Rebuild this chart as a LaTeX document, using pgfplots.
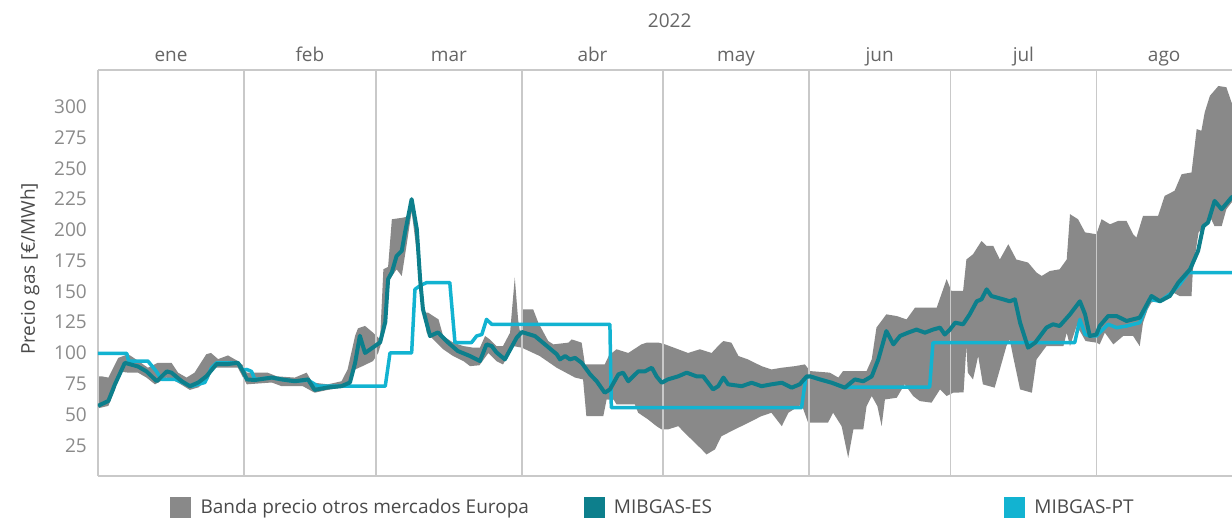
\documentclass[border=0pt]{standalone}
\usepackage{fontspec}
\setmainfont{Open Sans}
\usepackage{pgfplots}
\pgfplotsset{compat=1.18}
\usepgfplotslibrary{fillbetween}
\definecolor{bandgray}{HTML}{898989}
\definecolor{esteal}{HTML}{0D7F8C}
\definecolor{ptcyan}{HTML}{12B3D1}
\definecolor{framegray}{HTML}{C9C9C9}
\definecolor{ticktext}{HTML}{8A8A8A}
\definecolor{labeltext}{HTML}{666666}
\definecolor{legendtext}{HTML}{4A4A4A}

\begin{document}
\begin{tikzpicture}[font=\fontsize{19}{22}\selectfont]
\begin{axis}[
  scale only axis, width=1134pt, height=406pt,
  xmin=0, xmax=240.8, ymin=0, ymax=330,
  clip mode=individual,
  axis line style={draw=none},
  major tick length=0pt,
  /pgf/number format/assume math mode=true,
  ytick={25,50,...,300},
  yticklabel style={color=ticktext, inner sep=0pt, xshift=-11pt},
  xtick={15.5,45,74.5,105,135.5,166,196.5,226.4},
  xticklabels={ene,feb,mar,abr,may,jun,jul,ago},
  xticklabel pos=upper,
  xticklabel style={color=labeltext, anchor=base, inner sep=0pt, yshift=8pt},
  ylabel={Precio gas [€/MWh]},
  every axis y label/.style={at={(rel axis cs:-0.06,0.51)}, rotate=90, anchor=center, color=legendtext},
  legend columns=3,
  legend cell align=left,
  legend style={at={(0,0)}, anchor=north west, xshift=72pt, yshift=-21pt,
    draw=none, fill=none, inner sep=0pt, text=legendtext,
    nodes={inner sep=0pt},
    /tikz/every odd column/.append style={column sep=10pt}},
]
% banda de precios (max / min otros mercados)
\addplot[draw=none, name path=up, forget plot] table {
x y
0 81
0.8 81
2.2 80
4.3 96
6.4 99
8 95
10.6 88
12.7 92
15.6 92
17 84
18.8 80
20.5 84
23 99
24 100
25.5 95
27.6 98
29.7 93.4
30.8 90
31.6 84
36 84
38 81
41.8 80
44.3 84
45.5 76
48.8 74.5
51.7 77
53 86.6
54.6 114
55.2 120
56.7 122
58.4 116.5
59.9 111
60.6 168
61.6 170
62.4 208.7
64.8 210
65.8 211
66.6 225
67.7 208.7
68.4 160
69 132.8
70.1 132.8
71.2 130
72.3 127.3
73.3 113.8
75.4 108.4
77.6 105.6
79.7 104.3
81.1 104.3
82.2 113.8
83.2 111
84.6 105.6
86 105.6
87.5 116.5
88.5 161.3
89.2 127.3
89.7 115
90.1 135.5
92.4 135.5
93.5 124.6
95.6 109.7
96.7 107
99.9 108.4
100.6 111
102.7 108.4
103.4 90.7
107.6 90.7
108.5 98
110.1 103
112.6 100
115.4 107
116.5 108.4
119 108.4
120.4 107
123.2 103
125.3 100
127.8 103
130.3 100
132 107
132.8 109.7
134.5 108.4
136 97.5
138 94.8
140.9 89.3
143 86.6
145.2 88
148 89.3
150.1 90.7
151.2 85.3
155.4 84
157.2 80
158.2 85.3
163.2 85.3
164.3 94.8
165.3 120.6
167.4 131.4
169.6 130
171.7 127.3
173.5 136.9
178.1 136.9
180.2 160
181.2 150.4
183.7 150.4
184.4 176
185.8 180.2
187.6 191
188.7 187
190.1 187
191.5 176
193.3 188.4
195 176
197.5 173.5
199.3 165.3
200.4 162.6
202.1 166.6
204.2 168
205.7 176
206.4 212.8
208.1 208.7
209.6 198
212 196.5
213.1 208.7
214.9 204.6
216.6 207.3
218.4 207.3
219.8 196.5
220.5 193.8
221.9 211.4
225.1 211.4
226.5 227.7
228.6 231.8
230.1 245.3
232.2 246.7
233.3 282
234.3 280.6
235 295.5
236.1 309
237.9 317
239.6 316
240.7 303.6
241.5 300
};
\addplot[draw=none, name path=lo, forget plot] table {
x y
0 55
2.2 57
3.6 70
4.5 85
6.4 84
8.5 84
10.3 80
12.1 74.5
14.6 80
16 78
17.8 74
19.5 70
21.3 72
23.4 78.5
24.5 88
27.6 88
29.7 88
30.8 80
31.6 74.5
36.9 76
39 73
43.5 73
46 67.7
48.8 70
51.7 71.8
53 76
54.6 86.6
56 89
58.4 93.4
59.5 100
60.6 113.8
62 160
63.4 168
64.5 162.6
65.5 187
66.6 215
67.7 181.6
68.4 151.7
69.8 116.5
71.2 111
73.3 103
75.4 97.5
77.6 93.4
79 89.3
81 90
82.9 100
84.6 93.4
86 90.7
88.2 105.6
90 104.3
93.8 97.5
97.4 88
101.3 80
103 78.5
103.7 48.7
107.3 48.7
108 62.2
109.5 62
110.1 58.2
114 58.2
114.7 51.4
116.8 46
118.6 40.5
119.7 37.8
121 37.8
123.2 40.5
125.3 32.4
128.2 21.6
129.2 17.5
131 21.6
132.4 32.4
135.2 37.8
138.1 43.3
140.9 48.7
143 51.4
145.2 40.5
146.6 51.4
149.4 58.2
150.8 43.3
155 43.3
156.1 51.4
157.9 40.5
159.3 14.8
160.4 37.8
162.5 37.8
163.2 56.8
164.3 65
165.5 56.8
166.4 40.5
167.1 62.2
169.6 63.6
171.3 74.5
173.1 65
174.5 60.9
177 59.6
178.8 70.4
180.2 65
181.6 67.7
183.8 68
184.4 105.6
184.7 84
185.8 78.5
186.9 97.5
187.9 74.5
190.4 71.8
191.5 86.6
192.9 105.6
193.6 111
194.3 97.5
195.8 70.4
198.3 67.7
199.3 94.8
201.4 105.6
203.5 105.6
205 105.6
205.7 116.5
206.4 105.6
207.8 122
208.7 116.5
209.7 109.7
212 108.4
212.7 107
213.8 116.5
215.6 107
217.7 113.8
219.8 113.8
221.2 105.6
221.9 124.6
222.9 135.5
223.7 141
225.8 143.6
228.3 149
229.7 146.3
232.2 146.3
232.5 168
233.7 198
235.5 205
236.4 208.7
237.1 203
238.6 203
239.6 216.8
240.7 222.3
241.5 223
};
\addplot[bandgray, draw=none, forget plot] fill between[of=up and lo];

% separadores de mes y marco
\draw[framegray, line width=1.6pt] (axis cs:31,0) -- (axis cs:31,330);
\draw[framegray, line width=1.6pt] (axis cs:59,0) -- (axis cs:59,330);
\draw[framegray, line width=1.6pt] (axis cs:90,0) -- (axis cs:90,330);
\draw[framegray, line width=1.6pt] (axis cs:120,0) -- (axis cs:120,330);
\draw[framegray, line width=1.6pt] (axis cs:151,0) -- (axis cs:151,330);
\draw[framegray, line width=1.6pt] (axis cs:181,0) -- (axis cs:181,330);
\draw[framegray, line width=1.6pt] (axis cs:212,0) -- (axis cs:212,330);
\draw[framegray, line width=1.6pt] (rel axis cs:0,0) -- (rel axis cs:1,0);
\draw[framegray, line width=1.6pt] (rel axis cs:0,0) -- (rel axis cs:0,1);
\draw[framegray, line width=1.6pt] (rel axis cs:0,1) -- (rel axis cs:1,1);

% MIBGAS-PT
\addplot[ptcyan, line width=3.5pt, line join=round, forget plot] table {
x y
0 99.7
6.1 99.7
6.5 93.4
10.6 93.4
12.4 85
13.5 78.5
16.4 78.5
19.9 73
22.7 76
24.1 88
25.2 92
29.7 92
30.8 86
31.6 86.6
32.6 85
33.3 78.5
36.9 80
39 78.5
41.8 77
44.6 78
46.7 73
61 73
62 100
66.6 100
67.3 151.7
68.5 155
69.8 157.2
74.7 157.2
75.8 108.4
79.3 108.4
80.4 113.8
81.5 115
82.5 127.3
83.6 123.3
108.7 123.3
109 55.5
149.4 55.5
150.3 80
151.2 81
153.3 78.5
155.8 75.8
158.6 71.8
159.7 72.3
176.6 72.3
177.3 108.4
207.4 108.4
208.5 127.3
209.6 115
210.6 113.8
212 113.8
212.7 116.5
214.5 123.3
216.3 120.6
218.4 121.9
221.2 124.6
223.3 143.6
225.5 142
228 149
229.7 155.8
231.5 165.3
241.5 165.3
};

% MIBGAS-ES
\addplot[esteal, line width=4pt, line join=round, forget plot] table {
x y
0 57
2.2 61
3.6 74.5
5.7 92
8.5 89
10.3 85
12.5 77
14.6 85
15.6 84
17.8 77
19.5 73
21.3 76
23 81
25.2 91
27.6 91
29.7 92
30.8 85
31.6 78.5
33.3 78
36.9 80
39 78.5
41.8 77
44.6 78.5
46 70
48.8 72
51.7 73
53.5 76
54.6 92
55.6 114
56.7 100
58.4 104.5
59.9 108.6
61 125
61.6 160
62.4 165.6
63.4 178.8
64.5 183
65.2 198
66.6 225
67.7 200.6
68.4 160
69 135.5
70.5 113.8
72.2 116.7
74.3 108.6
76.4 101.6
79 97.5
81.1 93.4
82.5 107
83.6 105.6
84.6 100.5
86.4 94.8
88.9 112.4
90 117
92.8 113.7
94.9 107
97.4 99
98.1 94.8
99.2 97.5
100.2 94.8
101.3 96
102.7 92
104.5 82.6
105.9 77
107.6 67.7
108.7 70.4
110.5 82.6
111.5 84
112.6 77
114.7 85
116.1 85
117.6 88
118.6 81
119.7 75.8
121 78.5
123.2 81
125 84
127.1 81
128.5 81
130.6 70.4
131.7 73
132.8 80
133.8 74.5
136.7 73
138.8 75.8
140.9 73
143 74.5
145.2 75.8
147.3 71.8
149 74.5
150.5 81
151.2 81
153.3 78.5
155.8 75.8
158.6 71.8
160.7 78.5
162.5 77
164.3 81
165.7 94.8
167.4 117.8
168.9 107
170.3 113.8
172 116.5
173.8 119
175.6 116.5
177.3 119
178.8 120.6
179.8 115
180.9 119
182 124.6
183.7 123.3
185.1 131.4
186.6 142
187.6 143.6
188.7 151.7
189.7 146.3
192.2 143.6
193.6 142
194.7 143.6
195.8 124.6
197.5 104.3
199 108.4
201.4 120.6
202.8 123.3
204.2 121.9
206.4 131.4
208.5 142
209.6 131.4
210.6 113.8
212 115
212.7 121.9
214.5 130
216.3 130
218.4 126
221.2 128.7
223.7 146.3
225.5 142
227.6 146.3
229.4 157.2
231.9 168
233.6 183
234.7 203
235.7 206
237.1 223.6
238.6 216.8
240.7 226.4
241.5 228
};

\addlegendimage{legend image code/.code={\fill[bandgray] (0pt,-10pt) rectangle (20pt,10pt);}}
\addlegendentry{\makebox[383pt][l]{Banda precio otros mercados Europa}}
\addlegendimage{legend image code/.code={\fill[esteal] (0pt,-10pt) rectangle (20pt,10pt);}}
\addlegendentry{\makebox[390pt][l]{MIBGAS-ES}}
\addlegendimage{legend image code/.code={\fill[ptcyan] (0pt,-10pt) rectangle (20pt,10pt);}}
\addlegendentry{MIBGAS-PT}

\node[labeltext, anchor=base, yshift=42pt] at (axis cs:121.4,330) {2022};
\end{axis}
\pgfresetboundingbox
\path (-98pt,-41pt) rectangle (1134pt,476pt);
\end{tikzpicture}
\end{document}
